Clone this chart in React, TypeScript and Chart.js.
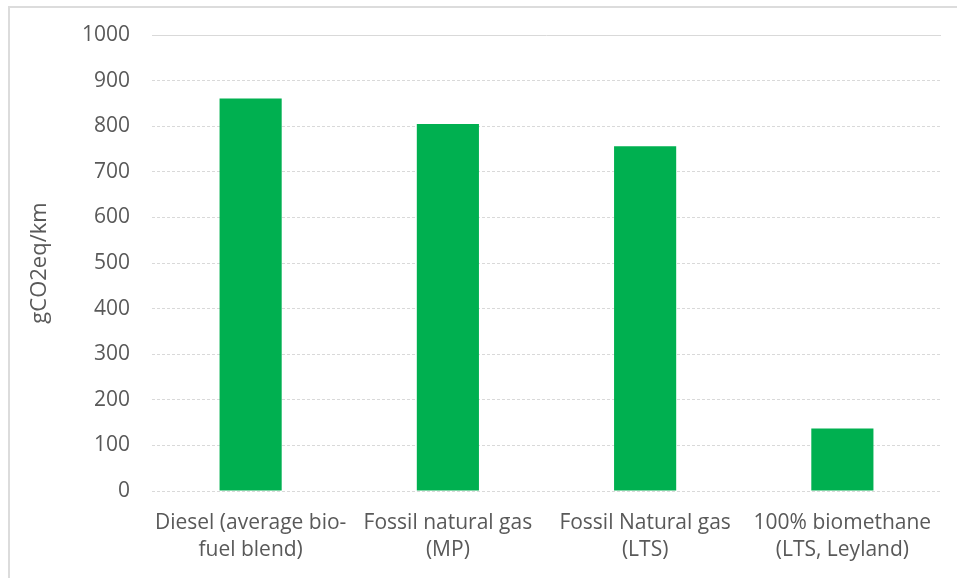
import React, { useEffect, useRef } from "react";
import { Chart, registerables } from "chart.js";

Chart.register(...registerables);

const categories: string[][] = [
  ["Diesel (average bio-", "fuel blend)"],
  ["Fossil natural gas", "(MP)"],
  ["Fossil Natural gas", "(LTS)"],
  ["100% biomethane", "(LTS, Leyland)"],
];
const emissions: number[] = [861, 805, 756, 137];
const yAxisTitle = "gCO2eq/km";
const yMin = 0;
const yMax = 1000;
const yStep = 100;

const FONT = "'Open Sans', Lato, sans-serif";
const TEXT = "#595959";

export default function App() {
  const ref = useRef<HTMLCanvasElement | null>(null);

  useEffect(() => {
    if (!ref.current) return;
    const chart = new Chart(ref.current, {
      type: "bar",
      data: {
        labels: categories,
        datasets: [
          {
            label: yAxisTitle,
            data: emissions,
            backgroundColor: "#00B050",
            borderWidth: 0,
            barPercentage: 0.315,
            categoryPercentage: 1,
          },
        ],
      },
      options: {
        animation: false,
        responsive: false,
        maintainAspectRatio: false,
        layout: { padding: { left: 0, right: 16, top: 35, bottom: 0 } },
        plugins: {
          legend: { display: false },
          tooltip: { enabled: false },
        },
        scales: {
          x: {
            grid: { display: false, drawTicks: false },
            border: { display: false },
            ticks: {
              color: TEXT,
              font: { family: FONT, size: 21, lineHeight: 1.29 },
              padding: 18,
              maxRotation: 0,
              autoSkip: false,
            },
            afterFit: (s: any) => {
              s.height = 87;
            },
          },
          y: {
            min: yMin,
            max: yMax,
            grid: {
              color: "#d9d9d9",
              lineWidth: 1,
              drawTicks: false,
            },
            border: {
              display: false,
              dash: (ctx: any) => (ctx.tick && ctx.tick.value === yMax ? [] : [3, 2]),
            },
            ticks: {
              stepSize: yStep,
              color: TEXT,
              font: { family: FONT, size: 21 },
              padding: 22,
              callback: (v: any) => String(v),
            },
            title: {
              display: true,
              text: yAxisTitle,
              color: TEXT,
              font: { family: FONT, size: 22 },
              padding: { top: 27, bottom: 0 },
            },
            afterFit: (s: any) => {
              s.width = 152;
            },
          },
        },
      },
    });
    return () => chart.destroy();
  }, []);

  return (
    <div
      style={{
        position: "absolute",
        left: 0,
        top: 0,
        width: 957,
        height: 578,
        overflow: "hidden",
        background: "#fff",
      }}
    >
      <div
        style={{
          position: "absolute",
          left: 8,
          top: 6,
          width: 1200,
          height: 1200,
          borderLeft: "2px solid #dcdcdc",
          borderTop: "2px solid #dcdcdc",
        }}
      />
      <canvas
        ref={ref}
        width={957}
        height={578}
        style={{ position: "absolute", left: 0, top: 0, width: 957, height: 578 }}
      />
    </div>
  );
}
